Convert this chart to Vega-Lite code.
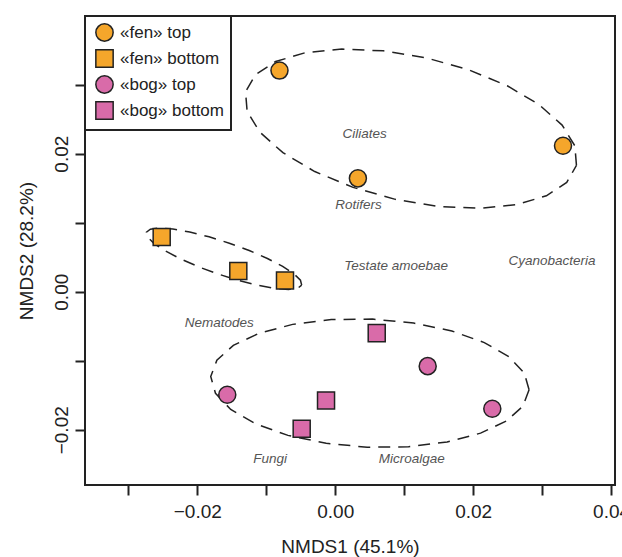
{
  "$schema": "https://vega.github.io/schema/vega-lite/v6.json",
  "width": 530,
  "height": 469,
  "autosize": "none",
  "padding": {"left": 85, "top": 16, "right": 7, "bottom": 72},
  "background": "white",
  "config": {
    "font": "Liberation Sans",
    "view": {"stroke": "#222222", "strokeWidth": 2},
    "axis": {"grid": false, "domain": false, "tickColor": "#222222", "tickWidth": 2, "tickSize": 10, "labelColor": "#222222", "titleColor": "#222222", "labelFontSize": 19, "titleFontSize": 19, "titleFontWeight": "normal", "labelFlush": false, "labelOverlap": false},
    "legend": {"orient": "top-left", "offset": 0, "strokeColor": "#222222", "strokeWidth": 2, "fillColor": "white", "padding": 7, "symbolOffset": 3, "rowPadding": 1, "symbolSize": 300, "symbolStrokeColor": "#222222", "symbolStrokeWidth": 1.5, "labelFontSize": 17, "labelColor": "#222222", "labelOffset": 6, "title": null}
  },
  "datasets": {
    "points": [
      {"grp": "«fen» top", "x": -0.00808, "y": 0.03203},
      {"grp": "«fen» top", "x": 0.00329, "y": 0.01642},
      {"grp": "«fen» top", "x": 0.03303, "y": 0.02114},
      {"grp": "«fen» bottom", "x": -0.02516, "y": 0.00791},
      {"grp": "«fen» bottom", "x": -0.01405, "y": 0.00299},
      {"grp": "«fen» bottom", "x": -0.00728, "y": 0.00164},
      {"grp": "«bog» top", "x": -0.01565, "y": -0.01493},
      {"grp": "«bog» top", "x": 0.01341, "y": -0.01078},
      {"grp": "«bog» top", "x": 0.02278, "y": -0.01696},
      {"grp": "«bog» bottom", "x": 0.00602, "y": -0.006},
      {"grp": "«bog» bottom", "x": -0.00133, "y": -0.01575},
      {"grp": "«bog» bottom", "x": -0.00486, "y": -0.01986}
    ],
    "ellipses": [
      {"e": "fen top", "i": 0, "x": 0.03498, "y": 0.0183},
      {"e": "fen top", "i": 1, "x": 0.03475, "y": 0.02113},
      {"e": "fen top", "i": 2, "x": 0.0329, "y": 0.02414},
      {"e": "fen top", "i": 3, "x": 0.02956, "y": 0.0271},
      {"e": "fen top", "i": 4, "x": 0.02495, "y": 0.02983},
      {"e": "fen top", "i": 5, "x": 0.01939, "y": 0.03213},
      {"e": "fen top", "i": 6, "x": 0.01326, "y": 0.03386},
      {"e": "fen top", "i": 7, "x": 0.00697, "y": 0.03489},
      {"e": "fen top", "i": 8, "x": 0.00097, "y": 0.03515},
      {"e": "fen top", "i": 9, "x": -0.00436, "y": 0.03462},
      {"e": "fen top", "i": 10, "x": -0.00864, "y": 0.03334},
      {"e": "fen top", "i": 11, "x": -0.01159, "y": 0.03141},
      {"e": "fen top", "i": 12, "x": -0.013, "y": 0.02894},
      {"e": "fen top", "i": 13, "x": -0.01277, "y": 0.02611},
      {"e": "fen top", "i": 14, "x": -0.01092, "y": 0.0231},
      {"e": "fen top", "i": 15, "x": -0.00758, "y": 0.02014},
      {"e": "fen top", "i": 16, "x": -0.00297, "y": 0.01741},
      {"e": "fen top", "i": 17, "x": 0.00259, "y": 0.01511},
      {"e": "fen top", "i": 18, "x": 0.00872, "y": 0.01338},
      {"e": "fen top", "i": 19, "x": 0.01501, "y": 0.01235},
      {"e": "fen top", "i": 20, "x": 0.02101, "y": 0.01209},
      {"e": "fen top", "i": 21, "x": 0.02634, "y": 0.01262},
      {"e": "fen top", "i": 22, "x": 0.03062, "y": 0.0139},
      {"e": "fen top", "i": 23, "x": 0.03357, "y": 0.01583},
      {"e": "fen top", "i": 24, "x": 0.03498, "y": 0.0183},
      {"e": "fen bottom", "i": 0, "x": -0.00486, "y": 0.00095},
      {"e": "fen bottom", "i": 1, "x": -0.00504, "y": 0.00166},
      {"e": "fen bottom", "i": 2, "x": -0.00599, "y": 0.00259},
      {"e": "fen bottom", "i": 3, "x": -0.00762, "y": 0.00366},
      {"e": "fen bottom", "i": 4, "x": -0.00983, "y": 0.00481},
      {"e": "fen bottom", "i": 5, "x": -0.01247, "y": 0.00597},
      {"e": "fen bottom", "i": 6, "x": -0.01535, "y": 0.00703},
      {"e": "fen bottom", "i": 7, "x": -0.01829, "y": 0.00795},
      {"e": "fen bottom", "i": 8, "x": -0.02109, "y": 0.00865},
      {"e": "fen bottom", "i": 9, "x": -0.02354, "y": 0.00908},
      {"e": "fen bottom", "i": 10, "x": -0.02549, "y": 0.00923},
      {"e": "fen bottom", "i": 11, "x": -0.0268, "y": 0.00906},
      {"e": "fen bottom", "i": 12, "x": -0.02738, "y": 0.00861},
      {"e": "fen bottom", "i": 13, "x": -0.0272, "y": 0.0079},
      {"e": "fen bottom", "i": 14, "x": -0.02625, "y": 0.00697},
      {"e": "fen bottom", "i": 15, "x": -0.02462, "y": 0.0059},
      {"e": "fen bottom", "i": 16, "x": -0.02241, "y": 0.00475},
      {"e": "fen bottom", "i": 17, "x": -0.01977, "y": 0.00359},
      {"e": "fen bottom", "i": 18, "x": -0.01689, "y": 0.00253},
      {"e": "fen bottom", "i": 19, "x": -0.01395, "y": 0.00161},
      {"e": "fen bottom", "i": 20, "x": -0.01115, "y": 0.00091},
      {"e": "fen bottom", "i": 21, "x": -0.0087, "y": 0.00048},
      {"e": "fen bottom", "i": 22, "x": -0.00675, "y": 0.00033},
      {"e": "fen bottom", "i": 23, "x": -0.00544, "y": 0.0005},
      {"e": "fen bottom", "i": 24, "x": -0.00486, "y": 0.00095},
      {"e": "bog", "i": 0, "x": 0.02811, "y": -0.01421},
      {"e": "bog", "i": 1, "x": 0.02742, "y": -0.01178},
      {"e": "bog", "i": 2, "x": 0.02521, "y": -0.00944},
      {"e": "bog", "i": 3, "x": 0.02162, "y": -0.00737},
      {"e": "bog", "i": 4, "x": 0.01691, "y": -0.00569},
      {"e": "bog", "i": 5, "x": 0.01137, "y": -0.00454},
      {"e": "bog", "i": 6, "x": 0.00542, "y": -0.00397},
      {"e": "bog", "i": 7, "x": -0.00057, "y": -0.00404},
      {"e": "bog", "i": 8, "x": -0.00617, "y": -0.00473},
      {"e": "bog", "i": 9, "x": -0.01102, "y": -0.00601},
      {"e": "bog", "i": 10, "x": -0.01477, "y": -0.00778},
      {"e": "bog", "i": 11, "x": -0.01716, "y": -0.00992},
      {"e": "bog", "i": 12, "x": -0.01805, "y": -0.01229},
      {"e": "bog", "i": 13, "x": -0.01736, "y": -0.01472},
      {"e": "bog", "i": 14, "x": -0.01515, "y": -0.01706},
      {"e": "bog", "i": 15, "x": -0.01156, "y": -0.01913},
      {"e": "bog", "i": 16, "x": -0.00685, "y": -0.02081},
      {"e": "bog", "i": 17, "x": -0.00131, "y": -0.02196},
      {"e": "bog", "i": 18, "x": 0.00464, "y": -0.02253},
      {"e": "bog", "i": 19, "x": 0.01063, "y": -0.02246},
      {"e": "bog", "i": 20, "x": 0.01623, "y": -0.02177},
      {"e": "bog", "i": 21, "x": 0.02108, "y": -0.02049},
      {"e": "bog", "i": 22, "x": 0.02483, "y": -0.01872},
      {"e": "bog", "i": 23, "x": 0.02722, "y": -0.01658},
      {"e": "bog", "i": 24, "x": 0.02811, "y": -0.01421}
    ],
    "labels": [
      {"t": "Ciliates", "x": 0.00428, "y": 0.02286},
      {"t": "Rotifers", "x": 0.00339, "y": 0.01251},
      {"t": "Testate amoebae", "x": 0.00882, "y": 0.00367},
      {"t": "Cyanobacteria", "x": 0.03144, "y": 0.00439},
      {"t": "Nematodes", "x": -0.01681, "y": -0.00455},
      {"t": "Fungi", "x": -0.00945, "y": -0.0242},
      {"t": "Microalgae", "x": 0.01109, "y": -0.0242}
    ]
  },
  "encoding": {
    "x": {"field": "x", "type": "quantitative", "scale": {"domain": [-0.03628, 0.04057], "nice": false, "zero": false},
      "axis": {"title": "NMDS1 (45.1%)", "values": [-0.03, -0.02, -0.01, 0, 0.01, 0.02, 0.03, 0.04], "labelExpr": "abs(round(datum.value*100)) % 2 == 0 ? format(datum.value, '.2f') : ''", "labelPadding": 7, "titlePadding": 16}},
    "y": {"field": "y", "type": "quantitative", "scale": {"domain": [-0.028, 0.03994], "nice": false, "zero": false},
      "axis": {"title": "NMDS2 (28.2%)", "values": [-0.02, -0.01, 0, 0.01, 0.02, 0.03], "labelExpr": "abs(round(datum.value*100)) % 2 == 0 ? format(datum.value, '.2f') : ''", "labelAngle": -90, "labelAlign": "center", "labelBaseline": "bottom", "labelPadding": 4, "titlePadding": 16}}
  },
  "layer": [
    {
      "data": {"name": "ellipses"},
      "mark": {"type": "line", "stroke": "#222222", "strokeWidth": 1.5, "strokeDash": [12, 8], "interpolate": "linear"},
      "encoding": {"detail": {"field": "e", "type": "nominal"}, "order": {"field": "i", "type": "quantitative"}}
    },
    {
      "data": {"name": "labels"},
      "mark": {"type": "text", "fontStyle": "italic", "fontSize": 13.5, "fill": "#555555", "align": "center", "baseline": "middle"},
      "encoding": {"text": {"field": "t", "type": "nominal"}}
    },
    {
      "data": {"name": "points"},
      "mark": {"type": "point", "filled": true, "size": 290, "stroke": "#222222", "strokeWidth": 1.5, "opacity": 1},
      "encoding": {
        "color": {"field": "grp", "type": "nominal", "scale": {"domain": ["«fen» top", "«fen» bottom", "«bog» top", "«bog» bottom"], "range": ["#F5A62B", "#F5A62B", "#D96BA9", "#D96BA9"]}, "legend": {"title": null}},
        "shape": {"field": "grp", "type": "nominal", "scale": {"domain": ["«fen» top", "«fen» bottom", "«bog» top", "«bog» bottom"], "range": ["circle", "square", "circle", "square"]}, "legend": {"title": null}}
      }
    }
  ]
}
